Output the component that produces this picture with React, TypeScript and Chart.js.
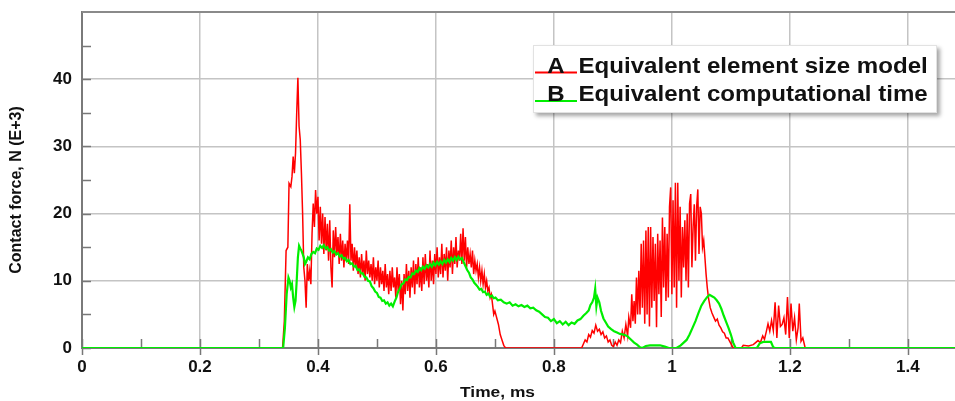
import { useEffect, useRef } from "react";
import { Chart, registerables } from "chart.js";

Chart.register(...registerables);

// ---- Data ----
const redT = [
  0, 0.34, 0.343, 0.346, 0.349, 0.351, 0.354, 0.356, 0.358, 0.36, 0.362, 0.364, 0.366, 0.368, 0.37, 0.372, 0.374, 0.376, 0.378, 0.38,
  0.382, 0.384, 0.386, 0.388, 0.39, 0.392, 0.394, 0.396, 0.398, 0.4, 0.402, 0.404, 0.406, 0.408, 0.41, 0.412, 0.414, 0.416, 0.418, 0.42,
  0.422, 0.424, 0.426, 0.428, 0.43, 0.432, 0.434, 0.436, 0.438, 0.44, 0.442, 0.444, 0.446, 0.448, 0.45, 0.452, 0.454, 0.456, 0.458, 0.46,
  0.462, 0.464, 0.466, 0.468, 0.47, 0.472, 0.474, 0.476, 0.478, 0.48, 0.482, 0.484, 0.486, 0.488, 0.49, 0.492, 0.494, 0.496, 0.498, 0.5,
  0.502, 0.504, 0.506, 0.508, 0.51, 0.512, 0.514, 0.516, 0.518, 0.52, 0.522, 0.524, 0.526, 0.528, 0.53, 0.532, 0.534, 0.536, 0.538, 0.54,
  0.542, 0.544, 0.546, 0.548, 0.55, 0.552, 0.554, 0.556, 0.558, 0.56, 0.562, 0.564, 0.566, 0.568, 0.57, 0.572, 0.574, 0.576, 0.578, 0.58,
  0.582, 0.584, 0.586, 0.588, 0.59, 0.592, 0.594, 0.596, 0.598, 0.6, 0.602, 0.604, 0.606, 0.608, 0.61, 0.612, 0.614, 0.616, 0.618, 0.62,
  0.622, 0.624, 0.626, 0.628, 0.63, 0.632, 0.634, 0.636, 0.638, 0.64, 0.642, 0.644, 0.646, 0.648, 0.65, 0.652, 0.654, 0.656, 0.658, 0.66,
  0.662, 0.664, 0.666, 0.668, 0.67, 0.672, 0.674, 0.676, 0.678, 0.68, 0.682, 0.684, 0.686, 0.688, 0.69, 0.692, 0.694, 0.696, 0.698, 0.7,
  0.703, 0.706, 0.709, 0.712, 0.715, 0.718, 0.847, 0.85, 0.853, 0.856, 0.859, 0.862, 0.865, 0.868, 0.871, 0.874, 0.877, 0.88, 0.883, 0.886,
  0.889, 0.892, 0.895, 0.898, 0.901, 0.904, 0.907, 0.91, 0.913, 0.916, 0.919, 0.922, 0.925, 0.927, 0.93, 0.932, 0.934, 0.936, 0.938, 0.94,
  0.942, 0.944, 0.946, 0.948, 0.95, 0.952, 0.954, 0.956, 0.958, 0.96, 0.962, 0.964, 0.966, 0.968, 0.97, 0.972, 0.974, 0.976, 0.978, 0.98,
  0.982, 0.984, 0.986, 0.988, 0.99, 0.992, 0.994, 0.996, 0.998, 1.0, 1.002, 1.004, 1.006, 1.008, 1.01, 1.012, 1.014, 1.016, 1.018, 1.02,
  1.022, 1.024, 1.026, 1.028, 1.03, 1.032, 1.034, 1.036, 1.038, 1.04, 1.042, 1.044, 1.046, 1.048, 1.05, 1.052, 1.054, 1.056, 1.058, 1.06,
  1.062, 1.065, 1.068, 1.071, 1.074, 1.077, 1.08, 1.083, 1.086, 1.089, 1.092, 1.095, 1.098, 1.101, 1.104, 1.118, 1.121, 1.13, 1.138, 1.142,
  1.146, 1.15, 1.154, 1.157, 1.16, 1.163, 1.166, 1.169, 1.172, 1.175, 1.178, 1.181, 1.184, 1.187, 1.19, 1.193, 1.196, 1.199, 1.202, 1.205,
  1.208, 1.211, 1.214, 1.216, 1.219, 1.222, 1.226, 1.48,
];
const redV = [
  0, 0, 4, 14.5, 15, 24.5, 24, 25.5, 28.5, 26, 29, 35, 40.2, 33, 31, 26, 20, 12, 10, 6,
  12.5, 10, 11.5, 9.5, 17, 21.5, 18, 23.5, 20, 22.5, 16, 21, 15.5, 20, 14, 19.5, 14.5, 18.5, 13, 19,
  12, 9, 17.5, 13.5, 18, 14, 16.5, 12.5, 17, 13, 16, 12, 15.5, 13, 16, 12.5, 21.4, 13, 15.5, 11.5,
  15, 12, 14.5, 11, 13.5, 10.5, 14, 11, 13, 10, 14.5, 11, 13, 10.5, 12.5, 10, 13.5, 9.5, 12, 10,
  13, 9, 12, 9.5, 11.5, 8.5, 12.5, 9, 11, 8, 11.5, 8.5, 12, 9, 10.5, 7.5, 12, 8.5, 11, 6.5,
  10, 5.6, 11, 8, 12.5, 8.5, 11.5, 7.5, 12, 9, 13, 8, 12.5, 9.5, 13.5, 9, 12, 8.5, 13.5, 9.5,
  14, 10, 12.5, 9, 14.5, 10, 13, 9.5, 14, 11, 15, 10.5, 13.5, 11, 15.5, 10.5, 14, 11.5, 15, 10,
  14.5, 12, 16, 11, 15, 12.5, 16.5, 12, 14.5, 13, 17, 12.5, 17.8, 13, 16.5, 12, 15, 12.5, 14, 12,
  14.5, 11, 13, 11.5, 12.5, 10.5, 12, 10, 11.5, 9.5, 11, 9, 10, 8.5, 9, 7.5, 8, 6.5, 5, 5.5,
  4.5, 3.5, 2, 1.2, 0.4, 0, 0, 0.6, 1.2, 0.9, 2, 1.6, 2.6, 2.2, 3.4, 2.5, 2.8, 2, 2.4, 1.5,
  1.8, 0.9, 1.2, 0.4, 0.2, 0.9, 0.4, 1.2, 0.8, 2.5, 1.5, 3.5, 1.8, 4.6, 3, 8, 4, 7, 3.6, 10.5,
  5, 11.5, 5, 15.5, 6, 16, 3.6, 17.5, 5, 18, 3.2, 18, 6, 16.5, 7, 15.5, 3.1, 17, 8, 16,
  4.6, 19.4, 9, 18, 7, 17, 7.5, 21, 23.9, 8, 22, 9, 24.6, 6, 24.6, 10, 21, 7.5, 18, 12,
  19, 10, 20, 9, 21.5, 22.9, 12, 18, 21.4, 13, 21, 23.6, 14, 21, 20, 15, 16, 13.5, 11, 9,
  7.5, 6, 5.2, 4.6, 4, 4.3, 3.4, 3, 2.4, 2.2, 1.5, 1.5, 1, 0.5, 0, 0, 0.4, 0.3, 0.5, 0.8,
  1.1, 0.8, 1.8, 1.3, 2.4, 3.6, 2.5, 4.1, 2.6, 6.8, 1.5, 6.3, 3.2, 3.5, 4.5, 2, 7.6, 1.5, 6.6, 2.5,
  4.5, 1.2, 3, 6.6, 1, 1.5, 0, 0,
];

const greenT = [
  0, 0.341, 0.344, 0.347, 0.35, 0.352, 0.354, 0.356, 0.358, 0.36, 0.362, 0.364, 0.366, 0.368, 0.37, 0.372, 0.374, 0.376, 0.378, 0.38,
  0.383, 0.386, 0.389, 0.392, 0.395, 0.398, 0.401, 0.404, 0.407, 0.41, 0.413, 0.416, 0.419, 0.422, 0.425, 0.428, 0.431, 0.434, 0.437, 0.44,
  0.443, 0.446, 0.449, 0.452, 0.455, 0.458, 0.461, 0.464, 0.467, 0.47, 0.473, 0.476, 0.479, 0.482, 0.485, 0.488, 0.491, 0.494, 0.497, 0.5,
  0.503, 0.506, 0.509, 0.512, 0.515, 0.518, 0.521, 0.524, 0.527, 0.53, 0.533, 0.536, 0.539, 0.542, 0.545, 0.548, 0.551, 0.554, 0.557, 0.56,
  0.563, 0.566, 0.569, 0.572, 0.575, 0.578, 0.581, 0.584, 0.587, 0.59, 0.593, 0.596, 0.599, 0.602, 0.605, 0.608, 0.611, 0.614, 0.617, 0.62,
  0.623, 0.626, 0.629, 0.632, 0.635, 0.638, 0.641, 0.644, 0.647, 0.65, 0.653, 0.656, 0.659, 0.662, 0.665, 0.668, 0.671, 0.674, 0.677, 0.68,
  0.683, 0.686, 0.689, 0.692, 0.695, 0.698, 0.701, 0.705, 0.71, 0.715, 0.72, 0.725, 0.73, 0.735, 0.74, 0.745, 0.75, 0.755, 0.76, 0.765,
  0.77, 0.775, 0.78, 0.785, 0.79, 0.795, 0.8, 0.805, 0.81, 0.815, 0.82, 0.825, 0.83, 0.835, 0.84, 0.845, 0.85, 0.855, 0.859, 0.862,
  0.865, 0.868, 0.87, 0.872, 0.874, 0.877, 0.88, 0.884, 0.888, 0.892, 0.897, 0.902, 0.907, 0.912, 0.918, 0.924, 0.93, 0.936, 0.941, 0.946,
  0.95, 0.956, 0.963, 0.972, 0.98, 0.988, 0.995, 1.008, 1.015, 1.02, 1.025, 1.03, 1.035, 1.04, 1.045, 1.05, 1.055, 1.06, 1.064, 1.068,
  1.072, 1.076, 1.08, 1.084, 1.088, 1.092, 1.096, 1.1, 1.104, 1.108, 1.144, 1.149, 1.155, 1.162, 1.168, 1.172, 1.175, 1.48,
];
const greenV = [
  0, 0, 3, 8, 10.5, 10, 9, 9.5, 7.5, 6.1, 7, 10, 13.5, 15.2, 14.8, 14.5, 14, 13.5, 12.5, 12.8,
  13.5, 13.2, 14, 14.3, 14.1, 14.8, 14.6, 15.2, 14.9, 15.3, 14.8, 15, 14.5, 14.7, 14.2, 14.4, 13.9, 14.1, 13.6, 13.8,
  13.3, 13.4, 12.9, 13.1, 12.5, 12.6, 12.1, 12.2, 11.6, 11.7, 11.1, 11.1, 10.6, 10.5, 10, 9.9, 9.2, 8.9, 8.4, 8.2,
  7.6, 7.5, 7.0, 7.1, 6.6, 6.8, 6.3, 6.6, 6.2, 6.9, 7.5, 8.4, 8.9, 9.5, 9.6, 10.2, 10.1, 10.6, 10.5, 11.1,
  11, 11.5, 11.3, 11.9, 11.6, 12.1, 11.8, 12.3, 12, 12.5, 12.1, 12.7, 12.3, 12.8, 12.4, 12.9, 12.5, 13.1, 12.7, 13.2,
  12.8, 13.4, 13, 13.5, 13.1, 13.6, 13.2, 13.4, 12.8, 12.2, 11.6, 11.2, 10.5, 10.2, 9.7, 9.4, 9.1, 8.7, 8.8, 8.3,
  8.4, 7.9, 8.1, 7.6, 7.8, 7.4, 7.5, 7.1, 7.2, 6.8, 6.6, 6.8, 6.3, 6.5, 6.2, 6.4, 6.1, 6.3, 5.9, 6,
  5.6, 5.4, 5, 4.6, 4.5, 4, 4.3, 3.7, 4, 3.5, 3.9, 3.4, 3.8, 3.6, 4.1, 4.3, 4.8, 5.2, 5.6, 6.4,
  6.8, 7.5, 8.8, 6.2, 7.5, 6.8, 5.5, 4.4, 3.8, 3.2, 2.8, 2.5, 2.3, 2.1, 2, 1.8, 1.3, 0.8, 0.5, 0.1,
  0, 0.3, 0.4, 0.4, 0.4, 0.2, 0, 0, 0.4, 0.8, 1.2, 2, 3, 4, 5.2, 6.3, 7, 7.6, 7.9, 7.7,
  7.5, 7.1, 6.6, 5.8, 4.8, 3.9, 3, 2, 0.8, 0, 0, 0.7, 0.9, 0.9, 0.9, 0.1, 0, 0,
];

const xMajorTicks = [0, 0.2, 0.4, 0.6, 0.8, 1.0, 1.2, 1.4];
const xTickLabels = ["0", "0.2", "0.4", "0.6", "0.8", "1", "1.2", "1.4"];
const xMinorTicks = [0.1, 0.3, 0.5, 0.7, 0.9, 1.1, 1.3];
const yMajorTicks = [0, 10, 20, 30, 40];
const yMinorTicks = [5, 15, 25, 35, 45];

const seriesNames = ["Equivalent element size model", "Equivalent computational time"];
const seriesTags = ["A", "B"];
const seriesColors = ["#ff0000", "#00ee00"];

const FONT = '"Liberation Sans", Arial, Helvetica, sans-serif';

const decorPlugin = {
  id: "decor",
  beforeDatasetsDraw(chart: any) {
    const { ctx, chartArea, scales } = chart;
    const { left, right, top, bottom } = chartArea;
    ctx.save();
    // top border
    ctx.strokeStyle = "#8a8a8a";
    ctx.lineWidth = 2;
    ctx.beginPath();
    ctx.moveTo(left, top);
    ctx.lineTo(right, top);
    ctx.stroke();
    // tick marks inside
    ctx.strokeStyle = "#777";
    ctx.lineWidth = 1.5;
    const tl = 9;
    ctx.beginPath();
    for (const v of [...yMajorTicks, ...yMinorTicks]) {
      const y = Math.round(scales.y.getPixelForValue(v)) + 0.5;
      ctx.moveTo(left, y);
      ctx.lineTo(left + tl, y);
    }
    for (const v of xMinorTicks) {
      const x = Math.round(scales.x.getPixelForValue(v)) + 0.5;
      ctx.moveTo(x, bottom);
      ctx.lineTo(x, bottom - tl);
    }
    for (const v of xMajorTicks) {
      const x = Math.round(scales.x.getPixelForValue(v)) + 0.5;
      ctx.moveTo(x, bottom + 7);
      ctx.lineTo(x, bottom - tl);
    }
    ctx.stroke();
    ctx.restore();
  },
  afterDraw(chart: any) {
    const { ctx } = chart;
    ctx.save();
    ctx.fillStyle = "#111";
    // y title
    ctx.font = `bold 16px ${FONT}`;
    ctx.textAlign = "center";
    ctx.textBaseline = "middle";
    ctx.save();
    ctx.translate(17, 190);
    ctx.rotate(-Math.PI / 2);
    ctx.fillText("Contact force, N (E+3)", 0, 0);
    ctx.restore();
    // x title
    ctx.save();
    ctx.translate(497.5, 393);
    ctx.scale(1.12, 1);
    ctx.font = `bold 15.5px ${FONT}`;
    ctx.fillText("Time, ms", 0, 0);
    ctx.restore();

    // legend box
    const bx = 533, by = 45, bw = 404, bh = 68;
    ctx.save();
    ctx.shadowColor = "rgba(0,0,0,0.35)";
    ctx.shadowBlur = 4;
    ctx.shadowOffsetX = 3;
    ctx.shadowOffsetY = 3;
    ctx.fillStyle = "#fff";
    ctx.fillRect(bx, by, bw, bh);
    ctx.restore();
    ctx.strokeStyle = "#e2e2e2";
    ctx.lineWidth = 1;
    ctx.strokeRect(bx + 0.5, by + 0.5, bw - 1, bh - 1);

    const rowsY = [72.5, 101];
    for (let i = 0; i < seriesNames.length; i++) {
      const y = rowsY[i];
      ctx.strokeStyle = seriesColors[i];
      ctx.lineWidth = 2;
      ctx.beginPath();
      ctx.moveTo(535, y);
      ctx.lineTo(577, y);
      ctx.stroke();
      ctx.fillStyle = "#111";
      ctx.save();
      ctx.translate(556, y);
      ctx.scale(1.12, 1);
      ctx.font = `bold 21.5px ${FONT}`;
      ctx.textAlign = "center";
      ctx.textBaseline = "alphabetic";
      ctx.fillText(seriesTags[i], 0, 0);
      ctx.restore();
      ctx.save();
      ctx.translate(578.5, y);
      ctx.scale(1.12, 1);
      ctx.font = `bold 21.5px ${FONT}`;
      ctx.textAlign = "left";
      ctx.textBaseline = "alphabetic";
      ctx.fillText(seriesNames[i], 0, 0);
      ctx.restore();
    }
    ctx.restore();
  },
};

export default function App() {
  const ref = useRef<HTMLCanvasElement | null>(null);
  useEffect(() => {
    document.body.style.margin = "0";
    const canvas = ref.current;
    if (!canvas) return;
    const redData = redT.map((t, i) => ({ x: t, y: redV[i] }));
    const greenData = greenT.map((t, i) => ({ x: t, y: greenV[i] }));
    const chart = new Chart(canvas, {
      type: "line",
      data: {
        datasets: [
          {
            label: seriesNames[0],
            data: redData,
            borderColor: seriesColors[0],
            borderWidth: 1.5,
            pointRadius: 0,
            tension: 0,
            order: 1,
          },
          {
            label: seriesNames[1],
            data: greenData,
            borderColor: seriesColors[1],
            borderWidth: 2.2,
            pointRadius: 0,
            tension: 0,
            order: 0,
          },
        ],
      },
      options: {
        responsive: false,
        animation: false,
        devicePixelRatio: 1,
        parsing: false as any,
        layout: { padding: { top: 12, right: 0, left: 0, bottom: 0 } },
        plugins: {
          legend: { display: false },
          tooltip: { enabled: false },
          title: { display: false },
        },
        scales: {
          x: {
            type: "linear",
            min: 0,
            max: 1.48,
            afterBuildTicks: (scale: any) => {
              scale.ticks = xMajorTicks.map((v) => ({ value: v }));
            },
            afterFit: (scale: any) => {
              scale.height = 53;
              scale.paddingLeft = 0;
              scale.paddingRight = 0;
            },
            ticks: {
              padding: 9,
              color: "#111",
              font: { family: FONT, size: 17, weight: "bold" },
              maxRotation: 0,
              autoSkip: false,
              callback: (value: any) => {
                const idx = xMajorTicks.findIndex((v) => Math.abs(v - value) < 1e-9);
                return idx >= 0 ? xTickLabels[idx] : "";
              },
            },
            grid: { color: "#c4c4c4", lineWidth: 1.5, drawTicks: false },
            border: { display: true, color: "#7a7a7a", width: 2 },
          },
          y: {
            type: "linear",
            min: 0,
            max: 50,
            afterBuildTicks: (scale: any) => {
              scale.ticks = yMajorTicks.map((v) => ({ value: v }));
            },
            afterFit: (scale: any) => {
              scale.width = 82;
              scale.paddingTop = 0;
              scale.paddingBottom = 0;
            },
            ticks: {
              padding: 10,
              color: "#111",
              font: { family: FONT, size: 17, weight: "bold" },
              callback: (value: any) => String(value),
            },
            grid: { color: "#c4c4c4", lineWidth: 1.5, drawTicks: false },
            border: { display: true, color: "#7a7a7a", width: 2 },
          },
        },
      },
      plugins: [decorPlugin],
    });
    return () => chart.destroy();
  }, []);
  return (
    <div style={{ position: "absolute", left: 0, top: 0, width: 955, height: 401, background: "#fff" }}>
      <canvas ref={ref} width={955} height={401} style={{ width: 955, height: 401, display: "block" }} />
    </div>
  );
}
